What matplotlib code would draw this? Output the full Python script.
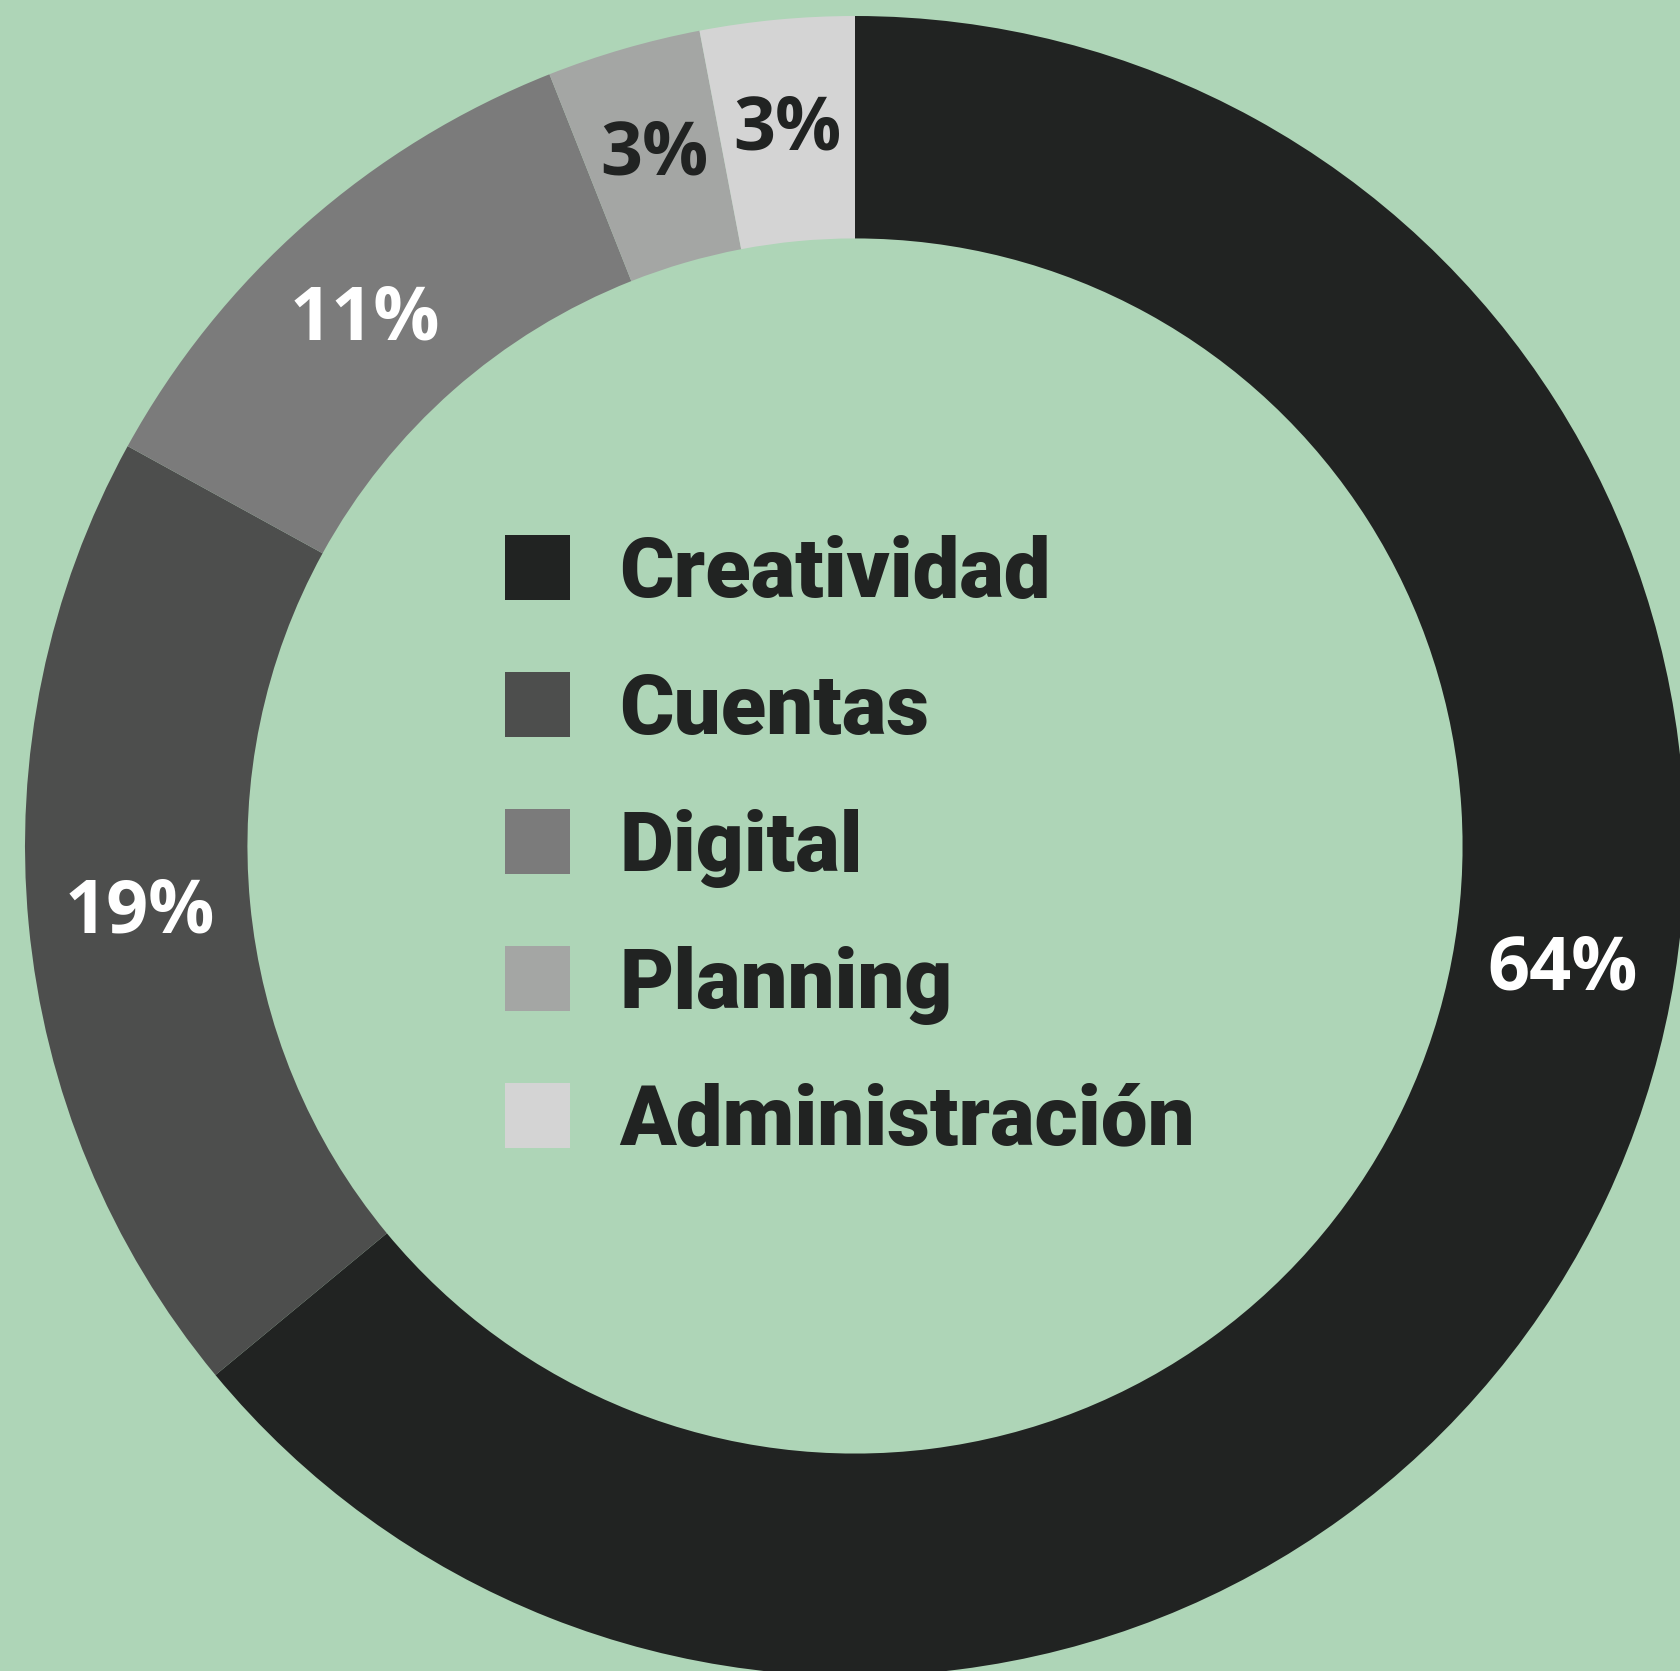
import numpy as np
import matplotlib
matplotlib.use("Agg")
import matplotlib.pyplot as plt
from matplotlib.patches import Rectangle

areas = ["Creatividad", "Cuentas", "Digital", "Planning", "Administración"]
porcentajes = [64, 19, 11, 3, 3]
colores = ["#212322", "#4d4e4d", "#7b7b7b", "#a4a6a4", "#d4d4d4"]
color_etiqueta = ["white", "white", "white", "#212322", "#212322"]

FONDO = "#aed5b7"
TEXTO = "#212322"

fig = plt.figure(figsize=(16.8, 16.71), dpi=100, facecolor=FONDO)
ax = fig.add_axes([0, 0, 1, 1])
ax.set_facecolor(FONDO)

ancho = 0.268
wedges, _ = ax.pie(
    porcentajes,
    colors=colores,
    startangle=90,
    counterclock=False,
    radius=1.0,
    wedgeprops=dict(width=ancho, linewidth=0, antialiased=True),
)

# pie() fija sus propios límites: el anillo queda recortado a la derecha y abajo
ax.set_xlim(-855 / 830, 825 / 830)
ax.set_ylim(-825 / 830, 846 / 830)
ax.axis("off")

# etiquetas de porcentaje en el centro del anillo
# (la porción grande lleva la etiqueta más arriba, dentro del área visible)
ajuste_frac = {0: 0.434, 2: 0.46}
r_etq = 1.0 - ancho / 2
for i, (w, p) in enumerate(zip(wedges, porcentajes)):
    frac = ajuste_frac.get(i, 0.5)
    ang = np.deg2rad(w.theta2 - frac * (w.theta2 - w.theta1))
    ax.text(r_etq * np.cos(ang), r_etq * np.sin(ang), f"{p}%",
            ha="center", va="center", fontsize=53, fontweight="bold",
            family="Open Sans", color=color_etiqueta[i])

# leyenda dibujada a mano en el hueco central
lado = 0.0783
x_cuadro = -0.4217
x_texto = -0.284
y0 = 0.335
paso = 0.165
for i, (nombre, col) in enumerate(zip(areas, colores)):
    yc = y0 - i * paso
    ax.add_patch(Rectangle((x_cuadro, yc - lado / 2), lado, lado,
                           facecolor=col, edgecolor="none"))
    ax.text(x_texto, yc - 0.035, nombre, ha="left", va="baseline",
            fontsize=60, fontweight="black", family="Roboto", color=TEXTO)

fig.savefig("out.png", dpi=100, facecolor=FONDO)
